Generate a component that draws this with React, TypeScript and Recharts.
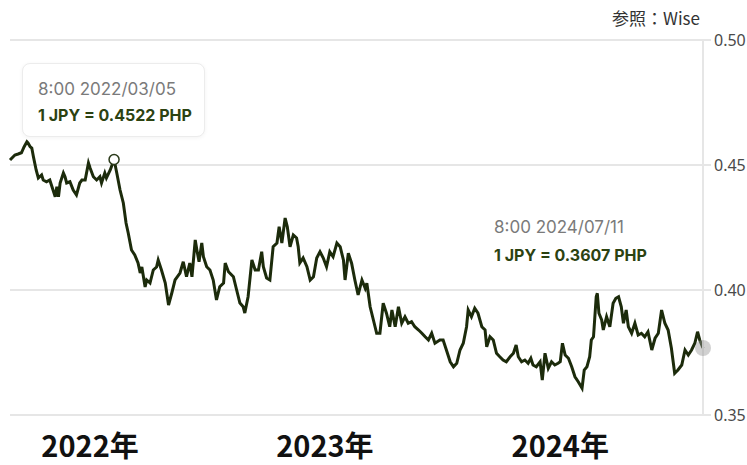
import React from 'react';
import { LineChart, Line, XAxis, YAxis, CartesianGrid, ReferenceDot } from 'recharts';

// days since 2021/08/26 and JPY→PHP rate
const days = [
  0, 9, 15, 21, 26, 31, 33, 37, 40, 43, 48, 52, 58, 61, 67, 73, 79, 83, 86, 89,
  92, 98, 101, 104, 110, 116, 122, 128, 132, 138, 144, 147, 153, 159, 165, 168, 174, 177, 184, 191,
  196, 202, 208, 213, 217, 223, 229, 235, 239, 242, 248, 251, 257, 263, 269, 272, 278, 285, 291, 297,
  303, 312, 318, 324, 330, 334, 340, 343, 347, 352, 355, 361, 367, 373, 379, 385, 392, 395, 401, 410,
  416, 422, 428, 431, 437, 444, 450, 456, 462, 465, 471, 477, 483, 490, 494, 499, 505, 509, 514, 520,
  526, 529, 532, 538, 545, 551, 557, 563, 569, 575, 581, 587, 593, 600, 606, 612, 615, 621, 627, 633,
  639, 646, 652, 655, 661, 667, 673, 679, 685, 691, 697, 701, 707, 713, 719, 725, 731, 737, 743, 750,
  756, 762, 768, 774, 780, 789, 795, 801, 808, 814, 820, 826, 832, 838, 841, 847, 853, 859, 866, 872,
  875, 881, 887, 893, 899, 905, 911, 918, 924, 929, 933, 939, 945, 951, 956, 960, 966, 973, 977, 982,
  988, 994, 1000, 1006, 1010, 1014, 1019, 1025, 1031, 1037, 1043, 1050, 1054, 1059, 1064, 1067, 1071, 1076, 1078, 1081,
  1086, 1089, 1095, 1101, 1107, 1112, 1117, 1122, 1126, 1131, 1135, 1141, 1147, 1153, 1159, 1165, 1171, 1178, 1184, 1190,
  1196, 1202, 1208, 1214, 1220, 1226, 1233, 1239, 1245, 1251, 1257, 1262, 1266, 1272,
];

const rates = [
  0.452, 0.454, 0.4544, 0.4549, 0.4573, 0.4593, 0.4588, 0.4573, 0.4568, 0.4533, 0.448, 0.4448, 0.446, 0.444, 0.4433, 0.444, 0.44, 0.4373, 0.4413, 0.4373,
  0.4428, 0.4468, 0.4453, 0.4428, 0.4433, 0.44, 0.438, 0.4428, 0.444, 0.444, 0.4508, 0.4488, 0.4453, 0.444, 0.4453, 0.4428, 0.4468, 0.4448, 0.448, 0.4522,
  0.4468, 0.44, 0.4348, 0.4268, 0.4228, 0.416, 0.414, 0.4108, 0.4068, 0.4092, 0.4012, 0.404, 0.4028, 0.408, 0.4092, 0.412, 0.408, 0.4028, 0.394, 0.3988,
  0.404, 0.4068, 0.4113, 0.4053, 0.4108, 0.4053, 0.42, 0.416, 0.4113, 0.4188, 0.4133, 0.4093, 0.408, 0.404, 0.396, 0.4013, 0.4028, 0.4108, 0.4073, 0.4053,
  0.4, 0.3948, 0.3933, 0.3908, 0.3973, 0.412, 0.408, 0.408, 0.4153, 0.4093, 0.4048, 0.404, 0.4173, 0.4188, 0.4253, 0.4188, 0.4288, 0.4253, 0.4173, 0.422,
  0.4208, 0.4173, 0.4108, 0.4128, 0.4093, 0.404, 0.4053, 0.4128, 0.4153, 0.4128, 0.4093, 0.4153, 0.4133, 0.4188, 0.4173, 0.412, 0.404, 0.4147, 0.4107, 0.404,
  0.398, 0.404, 0.4007, 0.4027, 0.3933, 0.388, 0.3827, 0.3827, 0.3947, 0.3907, 0.3853, 0.392, 0.3853, 0.3933, 0.3867, 0.3893, 0.3867, 0.3873, 0.3853, 0.384,
  0.3827, 0.3813, 0.38, 0.3827, 0.3787, 0.38, 0.38, 0.376, 0.3713, 0.3693, 0.3707, 0.376, 0.3787, 0.3853, 0.392, 0.3893, 0.3927, 0.3907, 0.3853, 0.384,
  0.3773, 0.3813, 0.38, 0.3747, 0.3733, 0.372, 0.3713, 0.3733, 0.3747, 0.378, 0.3733, 0.3713, 0.372, 0.3707, 0.3727, 0.37, 0.3693, 0.3713, 0.364, 0.3747,
  0.3687, 0.3713, 0.37, 0.3707, 0.3713, 0.3787, 0.374, 0.3727, 0.3693, 0.3653, 0.3633, 0.3607, 0.368, 0.3693, 0.3733, 0.38, 0.3813, 0.3973, 0.3987, 0.3907,
  0.388, 0.384, 0.3893, 0.3853, 0.3947, 0.3967, 0.3973, 0.3933, 0.3867, 0.392, 0.3853, 0.3827, 0.3867, 0.382, 0.3827, 0.3813, 0.3833, 0.376, 0.3807, 0.3827,
  0.392, 0.3867, 0.384, 0.3767, 0.3667, 0.368, 0.37, 0.376, 0.374, 0.376, 0.3787, 0.3833, 0.38, 0.3768,
];

const yTicks = [0.35, 0.4, 0.45, 0.5];
const yearLabelDays = [147, 578, 1010];
const yearLabels = ['2022年', '2023年', '2024年'];

const highlightDay = 191;
const highlightRate = 0.4522;

const data = days.map((d, i) => ({ day: d, rate: rates[i] }));
const last = data[data.length - 1];

const YearTick = (props: any) => {
  const { x, y, payload } = props;
  const idx = yearLabelDays.indexOf(payload.value);
  return (
    <text
      x={x}
      y={y + 42}
      textAnchor="middle"
      fontFamily="'Noto Sans CJK JP', 'Noto Sans', sans-serif"
      fontWeight={700}
      fontSize={29}
      fill="#111"
    >
      {yearLabels[idx]}
    </text>
  );
};

export default function App() {
  return (
    <div style={{ position: 'absolute', left: 0, top: 0, width: 747, height: 465, background: '#fff' }}>
      <LineChart width={747} height={465} data={data} margin={{ top: 40, right: 0, bottom: 0, left: 10 }}>
        <CartesianGrid vertical={false} stroke="#e6e6e6" strokeWidth={2} />
        <XAxis
          dataKey="day"
          type="number"
          domain={[0, 1272]}
          ticks={yearLabelDays}
          axisLine={false}
          tickLine={false}
          tickSize={0}
          tickMargin={0}
          height={50}
          tick={<YearTick />}
          interval={0}
        />
        <YAxis
          orientation="right"
          domain={[0.35, 0.5]}
          ticks={yTicks}
          width={44}
          axisLine={{ stroke: '#e6e6e6', strokeWidth: 2 }}
          tickLine={{ stroke: '#e6e6e6', strokeWidth: 2 }}
          tickSize={8}
          tickMargin={3}
          tickFormatter={(v) => v.toFixed(2)}
          tick={{ fill: '#4a4a4a', fontSize: 16, fontFamily: "'Noto Sans', sans-serif" }}
        />
        <Line
          type="linear"
          dataKey="rate"
          stroke="#1c2b0b"
          strokeWidth={3}
          dot={false}
          isAnimationActive={false}
        />
        <ReferenceDot x={highlightDay} y={highlightRate} r={5} fill="#fff" stroke="#2a3a1a" strokeWidth={1.5} />
        <ReferenceDot x={last.day} y={last.rate} r={8} fill="#9a9a9a" fillOpacity={0.45} stroke="none" />
      </LineChart>

      <div
        style={{
          position: 'absolute',
          right: 47,
          top: 5,
          fontFamily: "'Noto Sans CJK JP', sans-serif",
          fontSize: 17,
          color: '#333',
        }}
      >
        参照：Wise
      </div>

      <div
        style={{
          position: 'absolute',
          left: 22,
          top: 63,
          width: 183,
          height: 74,
          boxSizing: 'border-box',
          border: '1px solid #ececec',
          borderRadius: 8,
          background: '#fff',
          boxShadow: '0 1px 4px rgba(0,0,0,0.05)',
          fontFamily: 'Inter, sans-serif',
          padding: '12px 0 0 15px',
        }}
      >
        <div style={{ fontSize: 17, color: '#7a7a7a', lineHeight: '26px' }}>8:00 2022/03/05</div>
        <div style={{ fontSize: 16, color: '#2c4211', fontWeight: 700, lineHeight: '26px' }}>1 JPY = 0.4522 PHP</div>
      </div>

      <div style={{ position: 'absolute', left: 494, top: 213, fontFamily: 'Inter, sans-serif' }}>
        <div style={{ fontSize: 17, color: '#7a7a7a', lineHeight: '28px' }}>8:00 2024/07/11</div>
        <div style={{ fontSize: 16, color: '#2c4211', fontWeight: 700, lineHeight: '28px' }}>1 JPY = 0.3607 PHP</div>
      </div>
    </div>
  );
}
